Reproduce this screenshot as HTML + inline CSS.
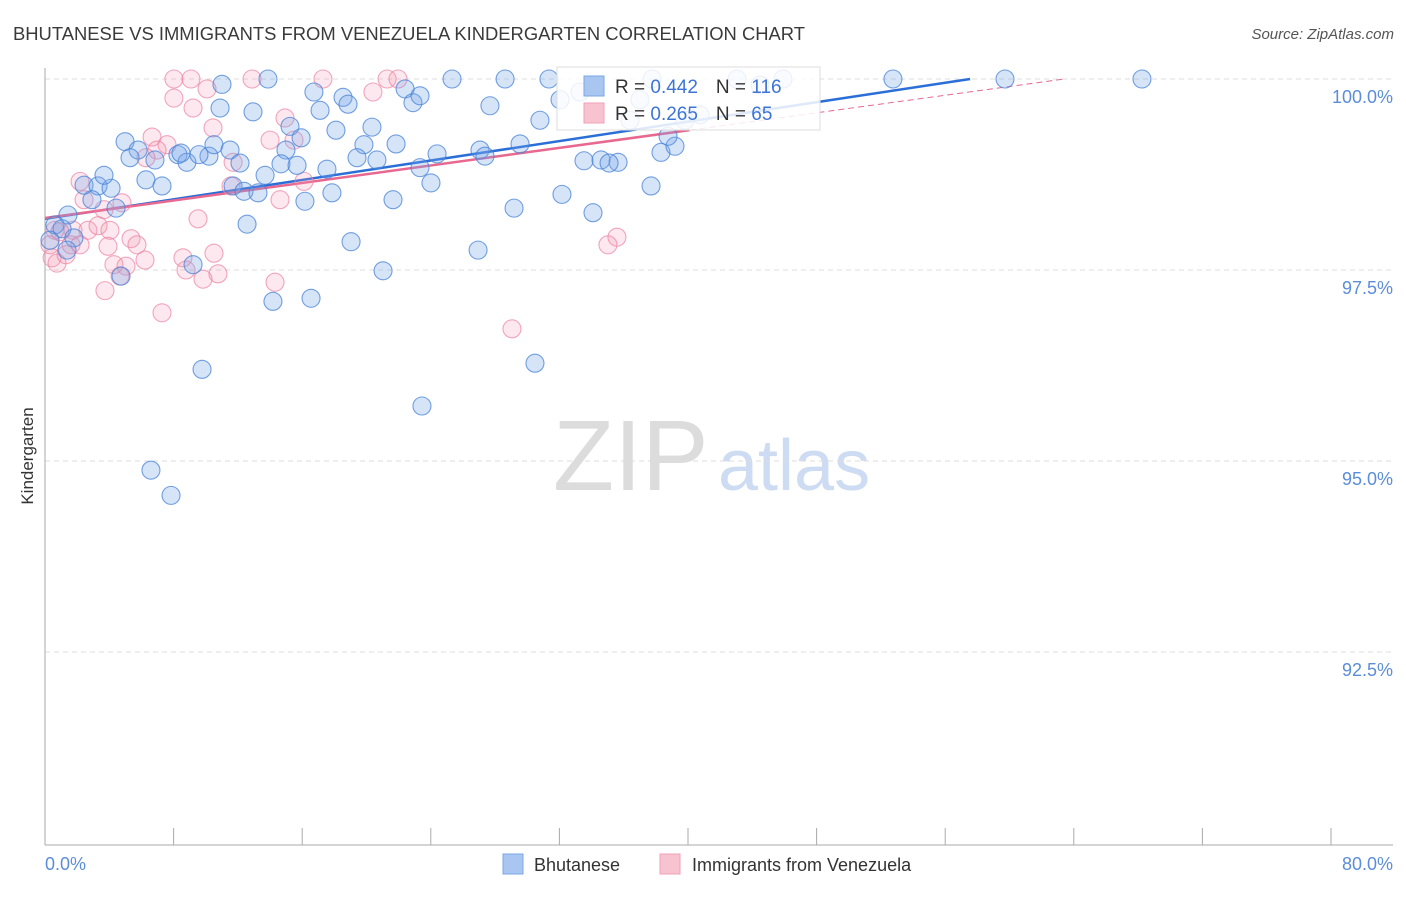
<!DOCTYPE html>
<html><head><meta charset="utf-8"><style>
body{margin:0;background:#fff;font-family:"Liberation Sans",sans-serif;}
svg text{font-family:"Liberation Sans",sans-serif;}
</style></head><body>
<svg id="chart" width="1406" height="892" viewBox="0 0 1406 892" xmlns="http://www.w3.org/2000/svg">
<text x="13" y="40" font-size="18" fill="#3a3a3a" textLength="792" lengthAdjust="spacingAndGlyphs">BHUTANESE VS IMMIGRANTS FROM VENEZUELA KINDERGARTEN CORRELATION CHART</text>
<text x="1394" y="39" font-size="15" fill="#555" font-style="italic" text-anchor="end">Source: ZipAtlas.com</text>
<text transform="translate(33,456) rotate(-90)" font-size="17" fill="#333" text-anchor="middle">Kindergarten</text>
<g>
<text x="553" y="490" font-size="100" fill="#dcdcdc" font-family="Liberation Serif,serif">ZIP</text>
<text x="718" y="490" font-size="72" fill="#cddcf2">atlas</text>
</g>
<g id="grid"></g>
<g id="axes"></g>
<g id="lines"></g>
<g id="points"></g>
<g>
<rect x="557" y="67" width="263" height="63" fill="#fff" fill-opacity="0.85" stroke="#ddd"/>
<rect x="584" y="76" width="20" height="20" fill="#a9c6f0" stroke="#7aa7e6"/>
<text x="615" y="93" font-size="19" fill="#333">R = <tspan fill="#3d74d6">0.442</tspan><tspan dx="18">N = </tspan><tspan fill="#3d74d6">116</tspan></text>
<rect x="584" y="103" width="20" height="20" fill="#f8c3d1" stroke="#f0a0b8"/>
<text x="615" y="120" font-size="19" fill="#333">R = <tspan fill="#3d74d6">0.265</tspan><tspan dx="18">N = </tspan><tspan fill="#3d74d6"> 65</tspan></text>
</g>
<g>
<rect x="503" y="854" width="20" height="20" fill="#a9c6f0" stroke="#7aa7e6"/>
<text x="534" y="871" font-size="18" fill="#333">Bhutanese</text>
</g>
<g>
<rect x="660" y="854" width="20" height="20" fill="#f8c3d1" stroke="#f0a0b8"/>
<text x="692" y="871" font-size="18" fill="#333">Immigrants from Venezuela</text>
</g>
</svg>
<script>
const yTicks=[100,97.5,95,92.5];
const yTickLabels=["100.0%","97.5%","95.0%","92.5%"];
const xTickLabels=["0.0%","80.0%"];
const blueX=[13.87,25.32,28.62,31.35,37.76,43.05,45.91,52.75,59.72,68.24,11.01,22.40,16.73,18.54,10.89,12.94,17.11,22.89,27.68,18.85,30.79,15.24,18.10,20.34,15.93,4.98,5.79,19.84,21.84,29.55,27.06,5.29,8.27,8.83,10.20,8.46,9.58,10.51,11.51,12.13,6.84,14.99,19.41,20.65,24.39,27.37,38.32,39.19,38.76,33.53,34.59,35.65,35.09,14.68,15.68,17.54,23.33,13.69,6.28,7.28,11.70,12.38,13.25,16.17,17.85,24.01,37.70,32.16,21.65,2.43,3.30,4.11,3.67,2.92,4.42,29.18,34.09,12.57,1.43,0.62,1.06,0.31,1.80,1.37,19.04,26.94,9.21,21.03,4.73,14.18,16.55,9.77,30.48,23.45,6.59,7.84,32.04,33.28,37.01,40.75,36.39,39.81,23.33,44.48];
const blueY=[100,100,100,100,100,100,100,100,100,100,99.93,99.87,99.83,99.76,99.62,99.57,99.59,99.69,99.65,99.67,99.46,99.38,99.33,99.37,99.23,99.18,99.07,99.14,99.15,99.15,99.07,98.97,99.01,98.91,98.99,99.03,99.01,99.14,99.07,98.90,98.94,99.07,98.97,98.94,99.02,98.99,99.04,99.12,99.25,98.93,98.94,98.91,98.90,98.89,98.87,98.82,98.84,98.74,98.68,98.60,98.60,98.53,98.51,98.40,98.51,98.64,98.60,98.49,98.42,98.61,98.60,98.57,98.74,98.42,98.31,98.31,98.25,98.10,98.22,98.09,98.04,97.89,97.92,97.76,97.87,97.76,97.57,97.49,97.42,97.09,97.13,96.20,96.28,95.72,94.88,94.55,99.73,99.83,99.73,99.53,99.46,99.46,99.78,99.92];
const pinkX=[8.02,9.08,12.88,17.29,21.28,21.96,8.02,10.08,9.21,20.40,10.45,14.93,15.49,6.66,7.59,6.97,11.70,6.28,14.00,16.11,14.62,11.57,9.52,2.18,2.43,4.79,3.67,1.74,2.67,3.30,4.04,0.93,0.44,0.75,1.31,1.62,2.18,3.92,5.35,5.72,6.22,5.04,4.29,8.58,8.77,10.51,9.83,10.76,3.73,4.67,7.28,14.31,29.05,35.02,35.58,0.62,0.31];
const pinkY=[100,100,100,100,100,100,99.75,99.87,99.62,99.83,99.36,99.49,99.20,99.24,99.14,99.07,98.91,98.97,99.20,98.66,98.42,98.60,98.17,98.66,98.42,98.38,98.29,98.02,98.02,98.08,98.02,98.00,97.66,97.59,97.70,97.83,97.83,97.81,97.91,97.83,97.63,97.55,97.57,97.66,97.50,97.72,97.38,97.45,97.23,97.42,96.94,97.34,96.73,97.83,97.93,98.02,97.83];
const blueTrend=[98.17,0.0318];
const pinkTrend=[98.18,0.0287];
const pinkSolidEnd=40.1;

const NS="http://www.w3.org/2000/svg";
const X0=45,XS=16.075,Y0=79,YS=76.4;
const sx=v=>X0+v*XS, sy=v=>Y0+(100-v)*YS;
function mk(tag,attrs,parent){const e=document.createElementNS(NS,tag);for(const k in attrs)e.setAttribute(k,attrs[k]);parent.appendChild(e);return e;}
const grid=document.getElementById('grid'),axes=document.getElementById('axes'),lines=document.getElementById('lines'),pts=document.getElementById('points');
yTicks.forEach((t,i)=>{
 const g=mk('line',{x1:45,x2:1393,y1:sy(t),y2:sy(t),stroke:'#ddd','stroke-dasharray':'5,4'},grid);
 
 
 const l=mk('text',{x:1393,y:sy(t)+24,'font-size':18,fill:'#5b8dd9','text-anchor':'end'},axes);
 l.textContent=yTickLabels[i];
 
 
});
const ya=mk('line',{x1:45,x2:45,y1:68,y2:845,stroke:'#aaa'},axes);


const xa=mk('line',{x1:45,x2:1393,y1:845,y2:845,stroke:'#aaa'},axes);


for(let i=0;i<=10;i++){
 const t=mk('line',{x1:sx(i*8),x2:sx(i*8),y1:828,y2:845,stroke:'#aaa'},axes);
 
 
}
const xl0=mk('text',{x:45,y:870,'font-size':18,fill:'#5b8dd9'},axes);xl0.textContent=xTickLabels[0];


const xl1=mk('text',{x:1393,y:870,'font-size':18,fill:'#5b8dd9','text-anchor':'end'},axes);xl1.textContent=xTickLabels[1];


function dot(x,y,fill,stroke,name){
 const c=mk('circle',{cx:sx(x),cy:sy(y),r:9,fill:fill,stroke:stroke,'stroke-width':1.1},pts);
 
 
}
pinkX.forEach((x,i)=>dot(x,pinkY[i],'rgba(242,150,178,0.22)','rgba(236,130,162,0.7)','venezuela-point'));
blueX.forEach((x,i)=>dot(x,blueY[i],'rgba(120,165,232,0.3)','rgba(70,130,215,0.75)','bhutanese-point'));
const bEnd=(100-blueTrend[0])/blueTrend[1];
const bl=mk('line',{x1:sx(0),y1:sy(blueTrend[0]),x2:sx(bEnd),y2:sy(100),stroke:'#2a6ed8','stroke-width':2.5},lines);


const pEnd=(100-pinkTrend[0])/pinkTrend[1];
const pl=mk('line',{x1:sx(0),y1:sy(pinkTrend[0]),x2:sx(pinkSolidEnd),y2:sy(pinkTrend[0]+pinkTrend[1]*pinkSolidEnd),stroke:'#e8688f','stroke-width':2.5},lines);


const pd=mk('line',{x1:sx(pinkSolidEnd),y1:sy(pinkTrend[0]+pinkTrend[1]*pinkSolidEnd),x2:sx(pEnd),y2:sy(100),stroke:'#e8688f','stroke-width':1,'stroke-dasharray':'6,4'},lines);


</script>
</body></html>
